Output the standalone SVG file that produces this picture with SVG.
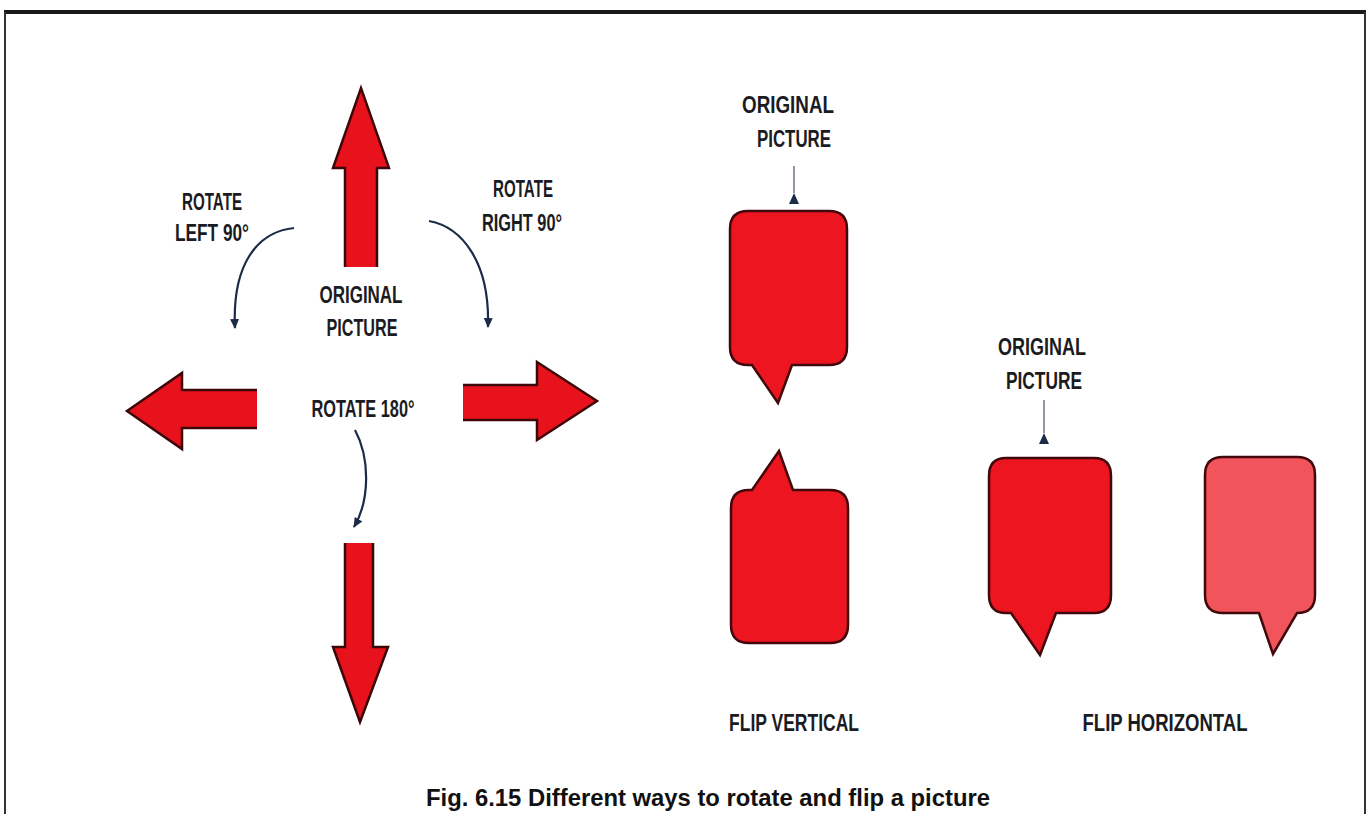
<svg xmlns="http://www.w3.org/2000/svg" width="1370" height="814" viewBox="0 0 1370 814">
<style>
.lbl{font-family:"Liberation Sans",Arial,sans-serif;font-weight:bold;font-size:23px;fill:#1b1b22;text-anchor:middle}
.cap{font-family:"Liberation Sans",Arial,sans-serif;font-weight:bold;font-size:24px;fill:#111;text-anchor:middle}
.big{fill:#e8121d;stroke:#3d0709;stroke-width:2.5;stroke-linejoin:miter}
.bub{fill:#ec1520;stroke:#42080b;stroke-width:2.5}
.bubp{fill:#f2545c;stroke:#42080b;stroke-width:2.5}
.curve{fill:none;stroke:#1c2b48;stroke-width:2.2}
.tick{stroke:#55606e;stroke-width:1.3}
.tri{fill:#1c2b48}
</style>
<defs>
<marker id="ah" markerUnits="userSpaceOnUse" markerWidth="10" markerHeight="9" refX="9" refY="4.5" orient="auto">
<path d="M0,0 L10,4.5 L0,9 Z" fill="#1c2b48"/>
</marker>
</defs>
<rect width="1370" height="814" fill="#ffffff"/>
<g id="frame">
<line x1="4" y1="12" x2="1366" y2="12" stroke="#1a1a1a" stroke-width="4"/>
<line x1="5" y1="12" x2="5" y2="814" stroke="#333" stroke-width="2"/>
<line x1="1365" y1="12" x2="1365" y2="814" stroke="#333" stroke-width="2"/>
</g>
<g id="arrow-up"><path class="big" d="M345,267 L345,168 L333,168 L361,88 L389,168 L377,168 L377,267"/></g>
<g id="arrow-left"><path class="big" d="M257,390 L182,390 L182,373 L127,411 L182,449 L182,428 L257,428"/></g>
<g id="arrow-right"><path class="big" d="M463,385 L537,385 L537,362 L597,401 L537,440 L537,420 L463,420"/></g>
<g id="arrow-down"><path class="big" d="M345,543 L345,647 L333,647 L360,722 L388,647 L373,647 L373,543"/></g>
<g id="bubble-original-v"><path class="bub" d="M748,211 H829 Q847,211 847,229 V347 Q847,365 829,365 H792 L778,403 L752,365 H748 Q730,365 730,347 V229 Q730,211 748,211 Z"/></g>
<g id="bubble-flip-v"><path class="bub" d="M749,490 H752 L779,451 L793,490 H830 Q848,490 848,508 V625 Q848,643 830,643 H749 Q731,643 731,625 V508 Q731,490 749,490 Z"/></g>
<g id="bubble-original-h"><path class="bub" d="M1006,458 H1094 Q1111,458 1111,476 V595 Q1111,613 1094,613 H1056 L1040,655 L1011,613 H1006 Q989,613 989,595 V476 Q989,458 1006,458 Z"/></g>
<g id="bubble-flip-h"><path class="bubp" d="M1223,457 H1297 Q1315,457 1315,475 V595 Q1315,613 1297,613 H1297 L1273,654 L1259,613 H1223 Q1205,613 1205,595 V475 Q1205,457 1223,457 Z"/></g>
<g id="labels">
<text class="lbl" x="212" y="210" textLength="60" lengthAdjust="spacingAndGlyphs">ROTATE</text>
<text class="lbl" x="212" y="241" textLength="74" lengthAdjust="spacingAndGlyphs">LEFT 90°</text>
<text class="lbl" x="523" y="197" textLength="60" lengthAdjust="spacingAndGlyphs">ROTATE</text>
<text class="lbl" x="522" y="231" textLength="80" lengthAdjust="spacingAndGlyphs">RIGHT 90°</text>
<text class="lbl" x="361" y="303" textLength="83" lengthAdjust="spacingAndGlyphs">ORIGINAL</text>
<text class="lbl" x="362" y="336" textLength="71" lengthAdjust="spacingAndGlyphs">PICTURE</text>
<text class="lbl" x="363" y="417" textLength="103" lengthAdjust="spacingAndGlyphs">ROTATE 180°</text>
<text class="lbl" x="788" y="113" textLength="92" lengthAdjust="spacingAndGlyphs">ORIGINAL</text>
<text class="lbl" x="794" y="147" textLength="74" lengthAdjust="spacingAndGlyphs">PICTURE</text>
<text class="lbl" x="1042" y="355" textLength="88" lengthAdjust="spacingAndGlyphs">ORIGINAL</text>
<text class="lbl" x="1044" y="389" textLength="76" lengthAdjust="spacingAndGlyphs">PICTURE</text>
<text class="lbl" x="794" y="731" textLength="130" lengthAdjust="spacingAndGlyphs">FLIP VERTICAL</text>
<text class="lbl" x="1165" y="731" textLength="165" lengthAdjust="spacingAndGlyphs">FLIP HORIZONTAL</text>
<text class="cap" x="708" y="806" textLength="564" lengthAdjust="spacingAndGlyphs">Fig. 6.15 Different ways to rotate and flip a picture</text>
</g>
<g id="connectors">
<path class="curve" d="M294,228 C256,232 232,266 235,328" marker-end="url(#ah)"/>
<path class="curve" d="M429,221 C462,227 490,262 488,327" marker-end="url(#ah)"/>
<path class="curve" d="M355,430 C370,458 370,500 354,527" marker-end="url(#ah)"/>
<line class="tick" x1="794" y1="166" x2="794" y2="193"/>
<polygon class="tri" points="789,204 794,193 799,204"/>
<line class="tick" x1="1044" y1="400" x2="1044" y2="433"/>
<polygon class="tri" points="1039,444 1044,433 1049,444"/>
</g>
</svg>
